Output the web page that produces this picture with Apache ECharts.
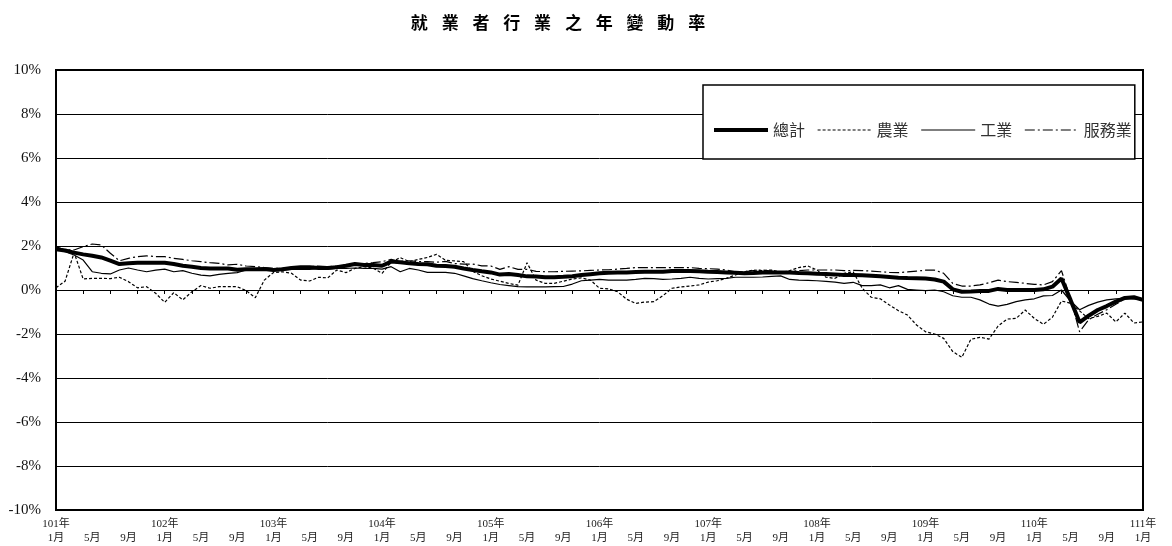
<!DOCTYPE html>
<html>
<head>
<meta charset="utf-8">
<script src="https://cdn.jsdelivr.net/npm/echarts@6/dist/echarts.min.js"></script>
<style>
html,body{margin:0;padding:0;background:#fff;}
#chart{width:1172px;height:546px;}
</style>
</head>
<body>
<div id="chart"></div>
<script>
// ---- data ----
const years = ['101年','102年','103年','104年','105年','106年','107年','108年','109年','110年','111年'];
const monthLabels = ['1月','5月','9月'];
const seriesNames = ['總計','農業','工業','服務業'];

const total = [
1.85,1.80,1.70,1.62,1.56,1.48,1.33,1.18,1.22,1.24,1.24,1.24,
1.24,1.18,1.10,1.06,1.00,0.98,0.98,0.98,0.92,0.94,0.94,0.95,
0.91,0.94,1.00,1.03,1.03,1.00,1.00,1.04,1.10,1.18,1.14,1.14,
1.10,1.29,1.26,1.21,1.18,1.17,1.10,1.09,1.06,0.98,0.91,0.85,
0.80,0.70,0.73,0.68,0.62,0.61,0.58,0.58,0.60,0.63,0.68,0.72,
0.76,0.78,0.80,0.80,0.82,0.83,0.83,0.83,0.86,0.86,0.86,0.85,
0.83,0.82,0.80,0.78,0.76,0.77,0.79,0.79,0.80,0.79,0.77,0.76,
0.74,0.73,0.71,0.68,0.68,0.67,0.65,0.62,0.59,0.56,0.54,0.53,
0.52,0.48,0.38,0.03,-0.08,-0.07,-0.05,-0.04,0.05,0.00,0.00,0.00,
0.00,0.03,0.15,0.52,-0.45,-1.47,-1.17,-0.91,-0.73,-0.53,-0.36,-0.33,
-0.45];

const agri = [
0.10,0.40,1.70,0.50,0.53,0.53,0.52,0.58,0.38,0.10,0.15,-0.15,
-0.56,-0.12,-0.45,-0.08,0.20,0.08,0.15,0.15,0.15,-0.03,-0.35,0.45,
0.79,0.83,0.76,0.45,0.41,0.58,0.55,0.91,0.79,0.98,1.06,1.00,
0.76,1.27,1.47,1.29,1.39,1.48,1.62,1.35,1.32,1.29,0.85,0.65,
0.50,0.40,0.30,0.22,1.24,0.45,0.30,0.30,0.40,0.50,0.55,0.45,
0.08,0.05,-0.08,-0.42,-0.61,-0.55,-0.53,-0.26,0.08,0.14,0.18,0.23,
0.36,0.42,0.53,0.68,0.83,0.91,0.88,0.91,0.80,0.88,1.02,1.09,
0.91,0.58,0.53,0.76,0.83,0.08,-0.33,-0.40,-0.68,-0.94,-1.14,-1.59,
-1.90,-2.00,-2.20,-2.80,-3.06,-2.24,-2.15,-2.23,-1.64,-1.32,-1.29,-0.91,
-1.29,-1.56,-1.24,-0.50,-0.60,-0.95,-1.30,-1.20,-1.05,-1.45,-1.05,-1.50,
-1.45];

const industry = [
1.94,1.74,1.59,1.36,0.83,0.76,0.73,0.91,1.00,0.91,0.83,0.90,
0.95,0.83,0.88,0.76,0.68,0.64,0.71,0.76,0.79,0.91,0.94,0.94,
0.88,0.91,0.94,0.94,0.94,0.98,0.95,0.98,0.98,1.00,0.98,0.98,
0.95,1.06,0.83,0.98,0.91,0.80,0.80,0.80,0.76,0.64,0.52,0.42,
0.33,0.25,0.20,0.15,0.14,0.14,0.14,0.15,0.16,0.27,0.42,0.45,
0.48,0.45,0.45,0.45,0.48,0.53,0.52,0.48,0.50,0.53,0.58,0.53,
0.50,0.52,0.53,0.58,0.58,0.58,0.59,0.62,0.64,0.48,0.45,0.44,
0.42,0.39,0.36,0.30,0.35,0.20,0.20,0.23,0.10,0.20,0.03,0.00,
-0.03,0.00,-0.08,-0.26,-0.33,-0.33,-0.45,-0.64,-0.73,-0.65,-0.53,-0.45,
-0.40,-0.27,-0.25,0.00,-0.50,-0.90,-0.70,-0.55,-0.45,-0.40,-0.38,-0.40,
-0.45];

const services = [
1.97,1.82,1.82,1.97,2.09,2.05,1.67,1.33,1.44,1.52,1.55,1.52,
1.52,1.44,1.39,1.33,1.29,1.24,1.21,1.14,1.17,1.09,1.06,1.02,
0.98,0.98,1.03,1.03,1.06,1.09,1.06,1.09,1.12,1.17,1.21,1.24,
1.29,1.39,1.30,1.33,1.29,1.29,1.26,1.30,1.20,1.18,1.18,1.10,
1.09,0.94,1.06,0.94,0.94,0.85,0.83,0.83,0.85,0.86,0.87,0.89,
0.91,0.92,0.95,0.98,1.02,1.02,1.02,1.02,1.02,1.02,1.02,0.98,
0.97,0.95,0.91,0.83,0.83,0.88,0.91,0.86,0.80,0.83,0.88,0.91,
0.91,0.91,0.91,0.88,0.89,0.88,0.86,0.83,0.80,0.79,0.82,0.86,
0.90,0.90,0.76,0.30,0.18,0.18,0.23,0.33,0.45,0.38,0.35,0.30,
0.26,0.23,0.38,0.88,-0.40,-1.90,-1.35,-1.10,-0.90,-0.65,-0.40,-0.30,
-0.45];

// category labels: every month from 101年1月 to 111年1月
const categories = [];
for (let y = 0; y < years.length; y++) {
  const nMonths = (y === years.length - 1) ? 1 : 12;
  for (let m = 0; m < nMonths; m++) {
    if (m === 0) categories.push(years[y] + '\n' + monthLabels[0]);
    else if (m === 4) categories.push('\n' + monthLabels[1]);
    else if (m === 8) categories.push('\n' + monthLabels[2]);
    else categories.push('');
  }
}

const chart = echarts.init(document.getElementById('chart'));
const serif = '"Liberation Serif","Noto Sans CJK TC",serif';
const sp = '\u2002\u2005\u200A';
chart.setOption({
  animation: false,
  backgroundColor: '#fff',
  title: {
    text: ['就','業','者','行','業','之','年','變','動','率'].join(sp),
    left: 553, top: 9, textAlign: 'center',
    textStyle: {fontFamily: '"Noto Sans CJK TC"', fontSize: 17, fontWeight: 'bold', color: '#000'}
  },
  legend: {
    data: seriesNames,
    left: 703, top: 85,
    padding: [37, 3, 21, 9],
    itemGap: 12,
    itemWidth: 54, itemHeight: 14,
    backgroundColor: '#fff',
    borderColor: '#000', borderWidth: 1.5,
    itemStyle: {opacity: 0},
    lineStyle: {width: 'inherit'},
    textStyle: {fontFamily: '"Noto Sans CJK TC"', fontSize: 16, color: '#333'}
  },
  grid: {left: 56, right: 29, top: 70, bottom: 36, show: true, borderColor: '#000', borderWidth: 2, backgroundColor: 'transparent'},
  xAxis: [{
    type: 'category', data: categories, boundaryGap: false,
    axisLine: {show: false, onZero: false},
    axisTick: {show: false},
    splitLine: {show: false},
    axisLabel: {interval: 0, fontSize: 11, lineHeight: 14, color: '#222', margin: 7, fontFamily: serif, showMaxLabel: true}
  }, {
    type: 'category', data: categories, boundaryGap: false, position: 'bottom',
    axisLine: {show: true, onZero: true, lineStyle: {color: '#000', width: 1}},
    axisTick: {show: true, interval: 2, length: 4, lineStyle: {color: '#000', width: 1}},
    axisLabel: {show: false},
    splitLine: {show: false}
  }],
  yAxis: {
    type: 'value', min: -10, max: 10, interval: 2,
    axisLine: {show: false}, axisTick: {show: false},
    splitLine: {show: true, lineStyle: {color: '#000', width: 1}},
    axisLabel: {formatter: v => v + '%', fontSize: 15, color: '#111', margin: 15, fontFamily: serif}
  },
  series: [
    {name: '總計', type: 'line', data: total, symbol: 'none', z: 5,
     lineStyle: {color: '#000', width: 4}, itemStyle: {color: '#000'}},
    {name: '農業', type: 'line', data: agri, symbol: 'none', z: 3,
     lineStyle: {color: '#000', width: 1.2, type: [3, 2]}, itemStyle: {color: '#000'}},
    {name: '工業', type: 'line', data: industry, symbol: 'none', z: 4,
     lineStyle: {color: '#000', width: 1.2}, itemStyle: {color: '#000'}},
    {name: '服務業', type: 'line', data: services, symbol: 'none', z: 3,
     lineStyle: {color: '#000', width: 1.2, type: [10, 3, 2, 3]}, itemStyle: {color: '#000'}}
  ]
});
</script>
</body>
</html>
